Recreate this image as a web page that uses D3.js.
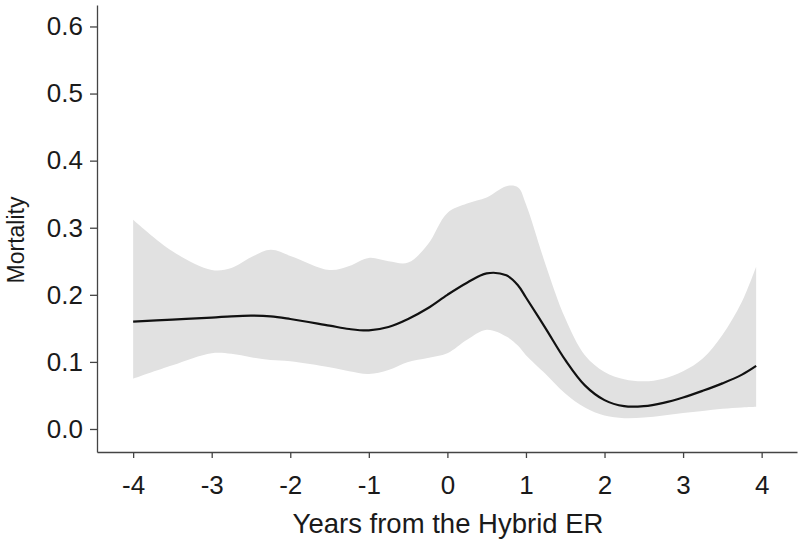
<!DOCTYPE html>
<html>
<head>
<meta charset="utf-8">
<script src="https://cdn.jsdelivr.net/npm/d3@7"></script>
<style>
  body { margin: 0; background: #fff; }
  svg { display: block; font-family: "Liberation Sans", Arial, sans-serif; }
</style>
</head>
<body>
<svg id="svg"></svg>
<script>
// years from the hybrid ER
const years = [-4, -3.5, -3, -2.75, -2.5, -2.25, -2, -1.5, -1.25, -1, -0.75, -0.5, -0.25, 0, 0.25, 0.5, 0.75, 0.9, 1, 1.25, 1.5, 1.75, 2, 2.25, 2.5, 2.75, 3, 3.25, 3.5, 3.75, 3.93];
// smoothed mortality
const fit = [0.160, 0.163, 0.166, 0.168, 0.169, 0.168, 0.164, 0.154, 0.149, 0.147, 0.152, 0.164, 0.180, 0.200, 0.218, 0.232, 0.229, 0.214, 0.196, 0.150, 0.103, 0.065, 0.043, 0.034, 0.034, 0.039, 0.047, 0.057, 0.068, 0.081, 0.094];
// confidence band
const lower = [0.075, 0.095, 0.113, 0.112, 0.107, 0.103, 0.101, 0.092, 0.086, 0.082, 0.088, 0.100, 0.106, 0.113, 0.133, 0.148, 0.138, 0.124, 0.110, 0.082, 0.053, 0.032, 0.020, 0.016, 0.017, 0.020, 0.024, 0.027, 0.030, 0.032, 0.033];
const upper = [0.312, 0.265, 0.237, 0.240, 0.256, 0.267, 0.258, 0.237, 0.243, 0.255, 0.250, 0.248, 0.275, 0.322, 0.336, 0.345, 0.362, 0.360, 0.335, 0.245, 0.165, 0.110, 0.085, 0.074, 0.071, 0.075, 0.086, 0.105, 0.140, 0.190, 0.242];
const xTicks = [-4, -3, -2, -1, 0, 1, 2, 3, 4];
const yTicks = [0, 0.1, 0.2, 0.3, 0.4, 0.5, 0.6];

const width = 800, height = 545;
const svg = d3.select('#svg').attr('width', width).attr('height', height);

const x = d3.scaleLinear().domain([-4.46, 4.45]).range([97, 797]);
const y = d3.scaleLinear().domain([-0.0343, 0.632]).range([452, 5]);

const rows = years.map((yr, i) => ({yr, fit: fit[i], lo: lower[i], hi: upper[i]}));

// band
svg.append('path')
  .datum(rows)
  .attr('fill', '#e1e1e1')
  .attr('d', d3.area()
    .x(d => x(d.yr))
    .y0(d => y(d.lo))
    .y1(d => y(d.hi))
    .curve(d3.curveCatmullRom.alpha(0.5)));

// fitted line
svg.append('path')
  .datum(rows)
  .attr('fill', 'none')
  .attr('stroke', '#111')
  .attr('stroke-width', 2.2)
  .attr('d', d3.line()
    .x(d => x(d.yr))
    .y(d => y(d.fit))
    .curve(d3.curveCatmullRom.alpha(0.5)));

// axes
const xAxis = svg.append('g')
  .attr('transform', 'translate(0,452)')
  .call(d3.axisBottom(x).tickValues(xTicks).tickFormat(d => String(d)).tickSize(6).tickSizeOuter(0).tickPadding(18));
const yAxis = svg.append('g')
  .attr('transform', 'translate(97,0)')
  .call(d3.axisLeft(y).tickValues(yTicks).tickFormat(d3.format('.1f')).tickSize(7).tickSizeOuter(0).tickPadding(7));

[xAxis, yAxis].forEach(g => {
  g.selectAll('path, line').attr('stroke', '#444').attr('stroke-width', 1.3);
  g.selectAll('text').attr('fill', '#1a1a1a').style('font-size', '26px')
    .style('font-family', '"Liberation Sans", Arial, sans-serif');
});

svg.append('text')
  .attr('x', 448).attr('y', 533)
  .attr('text-anchor', 'middle')
  .style('font-size', '27.5px')
  .attr('fill', '#1a1a1a')
  .text('Years from the Hybrid ER');

svg.append('text')
  .attr('transform', 'translate(24,240) rotate(-90)')
  .attr('text-anchor', 'middle')
  .style('font-size', '23px')
  .attr('fill', '#1a1a1a')
  .text('Mortality');
</script>
</body>
</html>
